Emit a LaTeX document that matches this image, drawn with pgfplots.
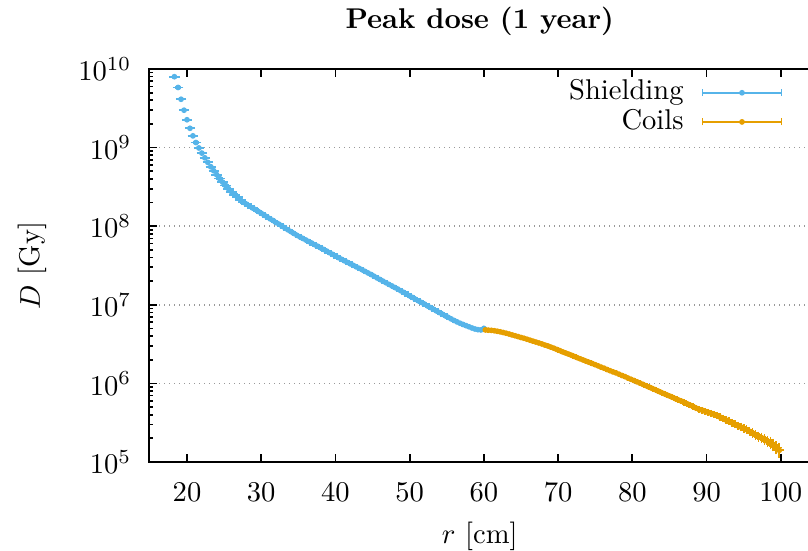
\documentclass[border=0pt]{standalone}
\usepackage{pgfplots}
\usepackage{pgfplotstable}
\pgfplotsset{compat=1.18}
\definecolor{shield}{RGB}{86,180,233}
\definecolor{coils}{RGB}{230,159,0}
\pgfplotstableread{
r D e
18.3 7.98e9 0.015
18.8 5.82e9 0.015
19.2 4.12e9 0.012
19.6 2.99e9 0.012
20.0 2.26e9 0.012
20.4 1.76e9 0.012
20.8 1.41e9 0.01
21.2 1.16e9 0.01
21.6 9.89e8 0.01
22.0 8.51e8 0.01
22.4 7.41e8 0.01
22.8 6.49e8 0.01
23.2 5.71e8 0.01
23.6 5.07e8 0.01
24.0 4.52e8 0.01
24.4 4.03e8 0.01
24.8 3.63e8 0.01
25.2 3.29e8 0.01
25.6 3.00e8 0.01
26.0 2.75e8 0.01
26.4 2.52e8 0.01
26.8 2.33e8 0.01
27.2 2.16e8 0.01
27.6 2.01e8 0.01
28.0 1.91e8 0.01
28.4 1.81e8 0.01
28.8 1.71e8 0.01
29.2 1.63e8 0.01
29.6 1.54e8 0.01
30.0 1.46e8 0.01
30.4 1.38e8 0.01
30.8 1.31e8 0.01
31.2 1.24e8 0.01
31.6 1.18e8 0.01
32.0 1.11e8 0.01
32.4 1.06e8 0.01
32.8 1.00e8 0.01
33.2 9.48e7 0.01
33.6 8.99e7 0.01
34.0 8.53e7 0.01
34.4 8.09e7 0.01
34.8 7.67e7 0.01
35.2 7.33e7 0.01
35.6 7.00e7 0.01
36.0 6.68e7 0.01
36.4 6.38e7 0.01
36.8 6.10e7 0.01
37.2 5.82e7 0.01
37.6 5.56e7 0.01
38.0 5.31e7 0.01
38.4 5.07e7 0.01
38.8 4.83e7 0.01
39.2 4.60e7 0.01
39.6 4.39e7 0.01
40.0 4.18e7 0.01
40.4 3.98e7 0.01
40.8 3.80e7 0.01
41.2 3.63e7 0.01
41.6 3.47e7 0.01
42.0 3.32e7 0.01
42.4 3.18e7 0.01
42.8 3.04e7 0.01
43.2 2.91e7 0.01
43.6 2.79e7 0.01
44.0 2.66e7 0.01
44.4 2.54e7 0.01
44.8 2.43e7 0.01
45.2 2.31e7 0.01
45.6 2.20e7 0.01
46.0 2.10e7 0.01
46.4 2.00e7 0.01
46.8 1.91e7 0.01
47.2 1.82e7 0.01
47.6 1.74e7 0.01
48.0 1.66e7 0.01
48.4 1.585e7 0.01
48.8 1.51e7 0.01
49.2 1.44e7 0.01
49.6 1.37e7 0.01
50.0 1.30e7 0.01
50.4 1.24e7 0.01
50.8 1.175e7 0.01
51.2 1.12e7 0.01
51.6 1.07e7 0.01
52.0 1.02e7 0.01
52.4 9.68e6 0.01
52.8 9.23e6 0.01
53.2 8.77e6 0.01
53.6 8.36e6 0.01
54.0 7.96e6 0.01
54.4 7.59e6 0.01
54.8 7.24e6 0.01
55.2 6.92e6 0.01
55.6 6.61e6 0.01
56.0 6.31e6 0.01
56.4 6.05e6 0.01
56.8 5.82e6 0.01
57.2 5.62e6 0.01
57.6 5.43e6 0.01
58.0 5.25e6 0.01
58.4 5.07e6 0.01
58.8 4.92e6 0.01
59.2 4.83e6 0.01
59.6 4.79e6 0.01
60.0 5.01e6 0.01
}\shielding
\pgfplotstableread{
r D e
60.2 4.79e6 0.015
60.6 4.76e6 0.015
61.0 4.73e6 0.015
61.4 4.68e6 0.015
61.8 4.61e6 0.015
62.2 4.53e6 0.015
62.6 4.44e6 0.015
63.0 4.35e6 0.015
63.4 4.25e6 0.015
63.8 4.14e6 0.015
64.2 4.04e6 0.015
64.6 3.94e6 0.015
65.0 3.84e6 0.015
65.4 3.75e6 0.015
65.8 3.65e6 0.015
66.2 3.55e6 0.015
66.6 3.45e6 0.015
67.0 3.36e6 0.015
67.4 3.27e6 0.015
67.8 3.18e6 0.015
68.2 3.08e6 0.015
68.6 3.00e6 0.015
69.0 2.90e6 0.015
69.4 2.81e6 0.015
69.8 2.71e6 0.015
70.2 2.62e6 0.015
70.6 2.52e6 0.015
71.0 2.44e6 0.015
71.4 2.36e6 0.015
71.8 2.28e6 0.015
72.2 2.20e6 0.015
72.6 2.12e6 0.015
73.0 2.05e6 0.015
73.4 1.98e6 0.015
73.8 1.91e6 0.015
74.2 1.85e6 0.015
74.6 1.79e6 0.015
75.0 1.73e6 0.015
75.4 1.67e6 0.015
75.8 1.61e6 0.015
76.2 1.56e6 0.02
76.6 1.50e6 0.02
77.0 1.45e6 0.02
77.4 1.40e6 0.02
77.8 1.36e6 0.02
78.2 1.31e6 0.02
78.6 1.26e6 0.02
79.0 1.22e6 0.02
79.4 1.17e6 0.02
79.8 1.13e6 0.02
80.2 1.09e6 0.025
80.6 1.05e6 0.025
81.0 1.01e6 0.025
81.4 9.75e5 0.025
81.8 9.38e5 0.025
82.2 9.02e5 0.025
82.6 8.69e5 0.025
83.0 8.38e5 0.025
83.4 8.05e5 0.025
83.8 7.74e5 0.025
84.2 7.45e5 0.03
84.6 7.18e5 0.03
85.0 6.92e5 0.03
85.4 6.65e5 0.03
85.8 6.40e5 0.03
86.2 6.17e5 0.035
86.6 5.96e5 0.035
87.0 5.71e5 0.035
87.4 5.50e5 0.035
87.8 5.27e5 0.035
88.2 5.06e5 0.04
88.6 4.85e5 0.04
89.0 4.66e5 0.045
89.4 4.57e5 0.045
89.8 4.42e5 0.045
90.2 4.29e5 0.045
90.6 4.17e5 0.045
91.0 4.04e5 0.05
91.4 3.89e5 0.05
91.8 3.73e5 0.055
92.2 3.59e5 0.055
92.6 3.43e5 0.055
93.0 3.30e5 0.06
93.4 3.16e5 0.06
93.8 3.02e5 0.065
94.2 2.90e5 0.065
94.6 2.79e5 0.065
95.0 2.68e5 0.075
95.4 2.58e5 0.075
95.8 2.45e5 0.075
96.2 2.34e5 0.085
96.6 2.21e5 0.085
97.0 2.11e5 0.095
97.4 2.04e5 0.095
97.8 1.93e5 0.1
98.2 1.84e5 0.11
98.6 1.77e5 0.12
99.0 1.66e5 0.13
99.4 1.53e5 0.14
99.8 1.41e5 0.16
}\coilsdata
\begin{document}
\begin{tikzpicture}
\begin{axis}[
  at={(0pt,0pt)}, anchor=south west,
  scale only axis, width=231.5pt, height=137.55pt,
  xmin=14.88, xmax=104, ymode=log, ymin=1e5, ymax=1e10,
  xtick={20,30,...,100},
  ytick pos=left,
  tick align=inside,
  major tick length=2.8pt, minor tick length=1.4pt,
  every tick/.style={black, line width=0.6pt},
  axis line style={line width=0.7pt},
  ymajorgrids,
  major grid style={black!40, line width=0.5pt, dash pattern=on 0.5pt off 1.25pt},
  title={\bfseries Peak dose (1 year)},
  every axis title/.style={at={(0.5,1)}, anchor=south, yshift=8pt},
  xlabel={$r$ [cm]}, ylabel={$D$ [Gy]},
  every axis x label/.style={at={(axis description cs:0.5,-0.189)}, anchor=center},
  every axis y label/.style={at={(axis description cs:-0.1756,0.5)}, anchor=center, rotate=90},
  xticklabel style={yshift=-4pt},
  yticklabel style={xshift=-2.7pt},
  legend style={draw=none, fill=none, inner sep=0pt, at={(rel axis cs:0.9585,0.978)}, anchor=north east, row sep=0pt, column sep=5.7pt, nodes={inner sep=0.6pt, text height=7pt, text depth=2pt}},
  legend cell align=right, legend plot pos=right,
]
\addplot[shield, only marks, mark=*, mark size=0.8pt,
  error bars/.cd, x dir=both, x fixed=0.45, y dir=both, y explicit relative,
  error bar style={shield, line width=0.8pt},
  error mark options={shield, mark size=0.65pt, line width=0.6pt},
  /pgfplots/legend image code/.code={
    \draw[shield, line width=0.6pt] (0pt,0pt) -- (27.7pt,0pt);
    \draw[shield, line width=0.6pt] (0pt,-1.2pt) -- (0pt,1.2pt) (27.7pt,-1.2pt) -- (27.7pt,1.2pt);
    \fill[shield] (13.85pt,0pt) circle (0.8pt);
  }]
  table[x=r, y=D, y error=e] {\shielding};
\addlegendentry{Shielding}
\addplot[coils, only marks, mark=*, mark size=0.8pt,
  error bars/.cd, x dir=both, x fixed=0.45, y dir=both, y explicit relative,
  error bar style={coils, line width=0.8pt},
  error mark options={coils, mark size=0.65pt, line width=0.6pt},
  /pgfplots/legend image code/.code={
    \draw[coils, line width=0.6pt] (0pt,0pt) -- (27.7pt,0pt);
    \draw[coils, line width=0.6pt] (0pt,-1.2pt) -- (0pt,1.2pt) (27.7pt,-1.2pt) -- (27.7pt,1.2pt);
    \fill[coils] (13.85pt,0pt) circle (0.8pt);
  }]
  table[x=r, y=D, y error=e] {\coilsdata};
\addlegendentry{Coils}
\end{axis}
\pgfresetboundingbox
\useasboundingbox (-52.15pt,-30.8pt) rectangle (230.65pt,161.7pt);
\end{tikzpicture}
\end{document}
